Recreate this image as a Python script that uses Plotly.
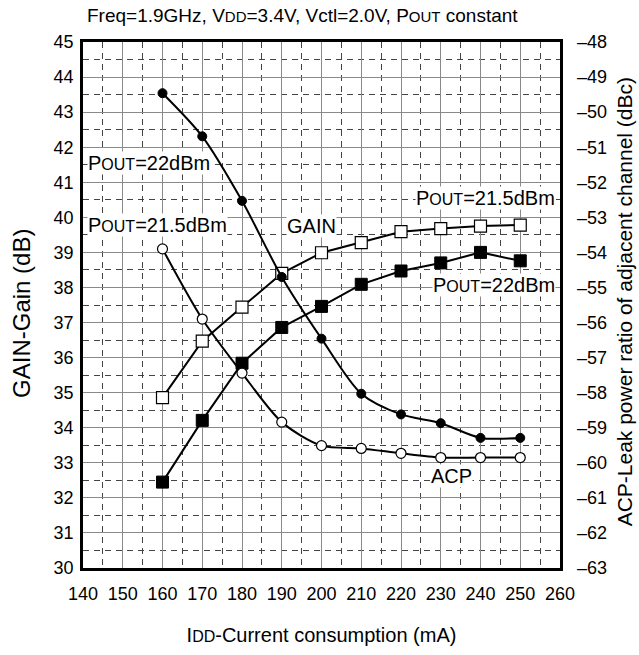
import plotly.graph_objects as go

# ---- data ----
idd_ma = [160, 170, 180, 190, 200, 210, 220, 230, 240, 250]
gain_21_5 = [34.86, 36.47, 37.44, 38.40, 38.99, 39.28, 39.59, 39.68, 39.75, 39.78]
gain_22 = [32.45, 34.21, 35.84, 36.86, 37.46, 38.09, 38.47, 38.70, 39.00, 38.76]
acp_22 = [-49.46, -50.69, -52.53, -54.70, -56.46, -58.03, -58.62, -58.87, -59.29, -59.29]
acp_21_5 = [-53.90, -55.90, -57.44, -58.84, -59.51, -59.59, -59.73, -59.85, -59.85, -59.85]

x_ticks = list(range(140, 261, 10))
left_ticks = list(range(30, 46))
right_ticks = list(range(-63, -47))

FONT = "Liberation Sans, Arial, sans-serif"


def sc(t, size):
    return "<span style='font-size:%dpx'>%s</span>" % (size, t)


fig = go.Figure()

line_style = dict(color="black", width=2)
fig.add_trace(go.Scatter(x=idd_ma, y=gain_21_5, mode="lines+markers", line=line_style,
                         marker=dict(symbol="square", size=12, color="white",
                                     line=dict(color="black", width=1.2)),
                         showlegend=False, yaxis="y"))
fig.add_trace(go.Scatter(x=idd_ma, y=gain_22, mode="lines+markers", line=line_style,
                         marker=dict(symbol="square", size=12, color="black",
                                     line=dict(color="black", width=1)),
                         showlegend=False, yaxis="y"))
fig.add_trace(go.Scatter(x=idd_ma, y=acp_22, mode="lines+markers",
                         line=dict(color="black", width=2, shape="spline", smoothing=0.8),
                         marker=dict(symbol="circle", size=9, color="black",
                                     line=dict(color="black", width=1)),
                         showlegend=False, yaxis="y2"))
fig.add_trace(go.Scatter(x=idd_ma, y=acp_21_5, mode="lines+markers",
                         line=dict(color="black", width=2, shape="spline", smoothing=0.8),
                         marker=dict(symbol="circle", size=10, color="white",
                                     line=dict(color="black", width=1.2)),
                         showlegend=False, yaxis="y2"))

ann_font = dict(family=FONT, size=20, color="black")
labels = [
    (141.0, 41.54, "P" + sc("OUT", 16) + "=22dBm", "left"),
    (141.0, 39.78, "P" + sc("OUT", 16) + "=21.5dBm", "left"),
    (197.4, 39.76, "GAIN", "center"),
    (259.0, 40.55, "P" + sc("OUT", 16) + "=21.5dBm", "right"),
    (259.0, 38.07, "P" + sc("OUT", 16) + "=22dBm", "right"),
    (232.8, 32.63, "ACP", "center"),
]
annotations = []
for x, y, t, anc in labels:
    annotations.append(dict(x=x, y=y, xref="x", yref="y", text=t, showarrow=False,
                            xanchor=anc, yanchor="middle", bgcolor="white",
                            borderpad=0, font=ann_font))

# chart title
annotations.append(dict(
    x=0.0, y=1, xref="paper", yref="paper", yshift=27, xshift=2, showarrow=False,
    xanchor="left", yanchor="middle",
    text="Freq=1.9GHz, V" + sc("DD", 15) + "=3.4V, Vctl=2.0V, P" + sc("OUT", 15) + " constant",
    font=dict(family=FONT, size=19, color="black")))

# left axis title
annotations.append(dict(
    x=0.0, y=0.483, xref="paper", yref="paper", xshift=-61, showarrow=False,
    xanchor="center", yanchor="middle", textangle=-90,
    text="GAIN-Gain (dB)", font=dict(family=FONT, size=24, color="black")))

# right axis title
annotations.append(dict(
    x=1.0, y=0.505, xref="paper", yref="paper", xshift=64, showarrow=False,
    xanchor="center", yanchor="middle", textangle=-90,
    text="ACP-Leak power ratio of adjacent channel (dBc)",
    font=dict(family=FONT, size=21, color="black")))

grid_major = "#8a8a8a"
grid_minor = "#444444"

fig.update_layout(
    width=639, height=655,
    margin=dict(l=83, r=79, t=42, b=76),
    paper_bgcolor="white", plot_bgcolor="white",
    font=dict(family=FONT, size=18, color="black"),
    annotations=annotations,
    xaxis=dict(
        range=[140, 260], tickmode="array", tickvals=x_ticks,
        ticktext=[str(v) for v in x_ticks],
        showgrid=True, gridcolor=grid_major, gridwidth=1,
        minor=dict(dtick=5, tick0=140, showgrid=True, gridcolor=grid_minor,
                   griddash="6px,5px", gridwidth=1, ticks=""),
        showline=True, linecolor="black", linewidth=2.5, mirror=True,
        ticks="", ticklabelstandoff=8, zeroline=False,
        title=dict(text="I" + sc("DD", 16) + "-Current consumption (mA)",
                   font=dict(family=FONT, size=20), standoff=25),
    ),
    yaxis=dict(
        range=[30, 45], tickmode="array", tickvals=left_ticks,
        ticktext=[str(v) for v in left_ticks],
        showgrid=True, gridcolor=grid_major, gridwidth=1,
        minor=dict(dtick=0.5, tick0=30, showgrid=True, gridcolor=grid_minor,
                   griddash="6px,5px", gridwidth=1, ticks=""),
        showline=True, linecolor="black", linewidth=2.5, mirror=True,
        ticks="", ticklabelstandoff=3, zeroline=False,
    ),
    yaxis2=dict(
        range=[-63, -48], overlaying="y", side="right",
        tickmode="array", tickvals=right_ticks,
        ticktext=["\u2013" + str(abs(v)) for v in right_ticks],
        showgrid=False, showline=False, ticks="", ticklabelstandoff=16,
        zeroline=False,
    ),
)

fig.write_html("out.html")
